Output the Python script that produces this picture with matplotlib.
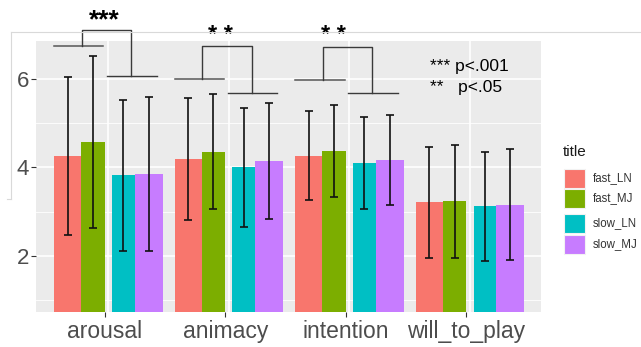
import matplotlib
matplotlib.use("Agg")
import matplotlib.pyplot as plt
from matplotlib.patches import Rectangle
from matplotlib.lines import Line2D
import numpy as np

plt.rcParams['font.family'] = ['Liberation Sans', 'DejaVu Sans']

# ---- data ----
categories = ["arousal", "animacy", "intention", "will_to_play"]
series = ["fast_LN", "fast_MJ", "slow_LN", "slow_MJ"]
fast_LN = [4.26, 4.20, 4.27, 3.21]
fast_MJ = [4.57, 4.36, 4.38, 3.23]
slow_LN = [3.82, 4.00, 4.10, 3.12]
slow_MJ = [3.86, 4.14, 4.17, 3.16]
sd_fast_LN = [1.79, 1.38, 1.01, 1.26]
sd_fast_MJ = [1.94, 1.31, 1.04, 1.27]
sd_slow_LN = [1.71, 1.35, 1.03, 1.23]
sd_slow_MJ = [1.74, 1.31, 1.02, 1.26]
yticks = [2, 4, 6]
sig_labels = ["***", "* *", "* *"]
note_lines = ["*** p<.001", "**   p<.05"]
legend_title = "title"

colors = ["#F8766D", "#7CAE00", "#00BFC4", "#C77CFF"]
means = [fast_LN, fast_MJ, slow_LN, slow_MJ]
sds = [sd_fast_LN, sd_fast_MJ, sd_slow_LN, sd_slow_MJ]

W, H = 641, 347
fig = plt.figure(figsize=(W / 100, H / 100), dpi=100)
ax = fig.add_axes([36 / W, (H - 312) / H, 505 / W, 271 / H])
ax.set_facecolor("#EBEBEB")
for s in ax.spines.values():
    s.set_visible(False)

x = np.arange(len(categories))
# bar spans relative to group center (left, right)
spans = [(-0.45, -0.225), (-0.225, -0.03), (0.03, 0.22), (0.22, 0.45)]

# grid
for v in [1, 3, 5]:
    ax.axhline(v, color="white", lw=0.6, zorder=0)
for v in yticks:
    ax.axhline(v, color="white", lw=1.2, zorder=0)
for g in x:
    ax.axvline(g, color="white", lw=1.2, zorder=0)

for i, (m, sd, c) in enumerate(zip(means, sds, colors)):
    l, r = spans[i]
    ax.bar(x + l, m, width=r - l, align="edge", bottom=0, color=c, edgecolor="none", zorder=2)
    ax.errorbar(x + (l + r) / 2, m, yerr=sd, fmt="none", ecolor="#111111",
                elinewidth=1.2, capsize=2.8, capthick=1.2, zorder=3)

ax.set_xlim(-0.60, 3.59)
ax.set_ylim(0.73, 6.86)
ax.set_yticks(yticks)
ax.set_yticklabels([str(v) for v in yticks])
ax.set_xticks(x - 0.03)
ax.set_xticklabels(categories)
ax.tick_params(axis="y", length=3.5, width=0.8, color="#333333", labelcolor="#4D4D4D",
               labelsize=16, pad=1.5)
ax.tick_params(axis="x", length=3.5, width=0.8, color="#333333", labelcolor="#4D4D4D",
               labelsize=16.5, pad=2)

# significance brackets
bracket_y = [(6.74, 6.07, 7.12), (6.00, 5.69, 6.74), (5.98, 5.68, 6.73)]
star_pos = [(-0.03, 7.33, 19), (-0.066, 6.98, 17), (-0.133, 6.98, 17)]
for g, (fy, sy, ty), lab, (dx, yy, fs) in zip(x, bracket_y, sig_labels, star_pos):
    ax.plot([g - 0.45, g - 0.04], [fy, fy], color="#555555", lw=1.1, clip_on=False, zorder=4)
    ax.plot([g - 0.01, g + 0.40], [sy, sy], color="#3a3a3a", lw=1.0, clip_on=False, zorder=4)
    ax.plot([g - 0.22, g - 0.22, g + 0.19, g + 0.19], [fy, ty, ty, sy], color="#3a3a3a",
            lw=1.0, clip_on=False, zorder=4)
    ax.text(g + dx, yy, lab, ha="center", va="center", fontsize=fs, fontweight="bold",
            color="black", clip_on=False)

# p-value note
ax.text(3.59 - (541 - 430) / 120.5, 6 + (79 - 66.5) / 44.25, note_lines[0], ha="left",
        va="center", fontsize=12.5, color="black")
ax.text(3.59 - (541 - 430) / 120.5, 6 - (87 - 79) / 44.25, note_lines[1], ha="left",
        va="center", fontsize=12.5, color="black")

# legend (drawn manually to match ggplot layout)
fig.text(563 / W, 1 - 152 / H, legend_title, ha="left", va="center", fontsize=11, color="#1a1a1a")
key_tops = [169, 189, 214, 235]
for c, lab, kt in zip(colors, series, key_tops):
    fig.patches.append(Rectangle((564 / W, 1 - (kt + 18.5) / H), 21 / W, 18.5 / H,
                                 transform=fig.transFigure, facecolor=c,
                                 edgecolor="#f2f2f2", lw=0.8))
    fig.text(593 / W, 1 - (kt + 9.5) / H, lab, ha="left", va="center", fontsize=8.3,
             color="#333333")

# frame artifacts from the screenshot
fig.add_artist(Line2D([11 / W, 1], [1 - 32 / H, 1 - 32 / H], transform=fig.transFigure,
                      color="#d9d9d9", lw=0.8))
fig.add_artist(Line2D([11 / W, 11 / W], [1 - 32 / H, 1 - 199 / H], transform=fig.transFigure,
                      color="#d9d9d9", lw=0.8))
fig.add_artist(Line2D([7 / W, 11 / W], [1 - 199 / H, 1 - 199 / H], transform=fig.transFigure,
                      color="#d9d9d9", lw=0.8))

fig.savefig("out.png", dpi=100)
